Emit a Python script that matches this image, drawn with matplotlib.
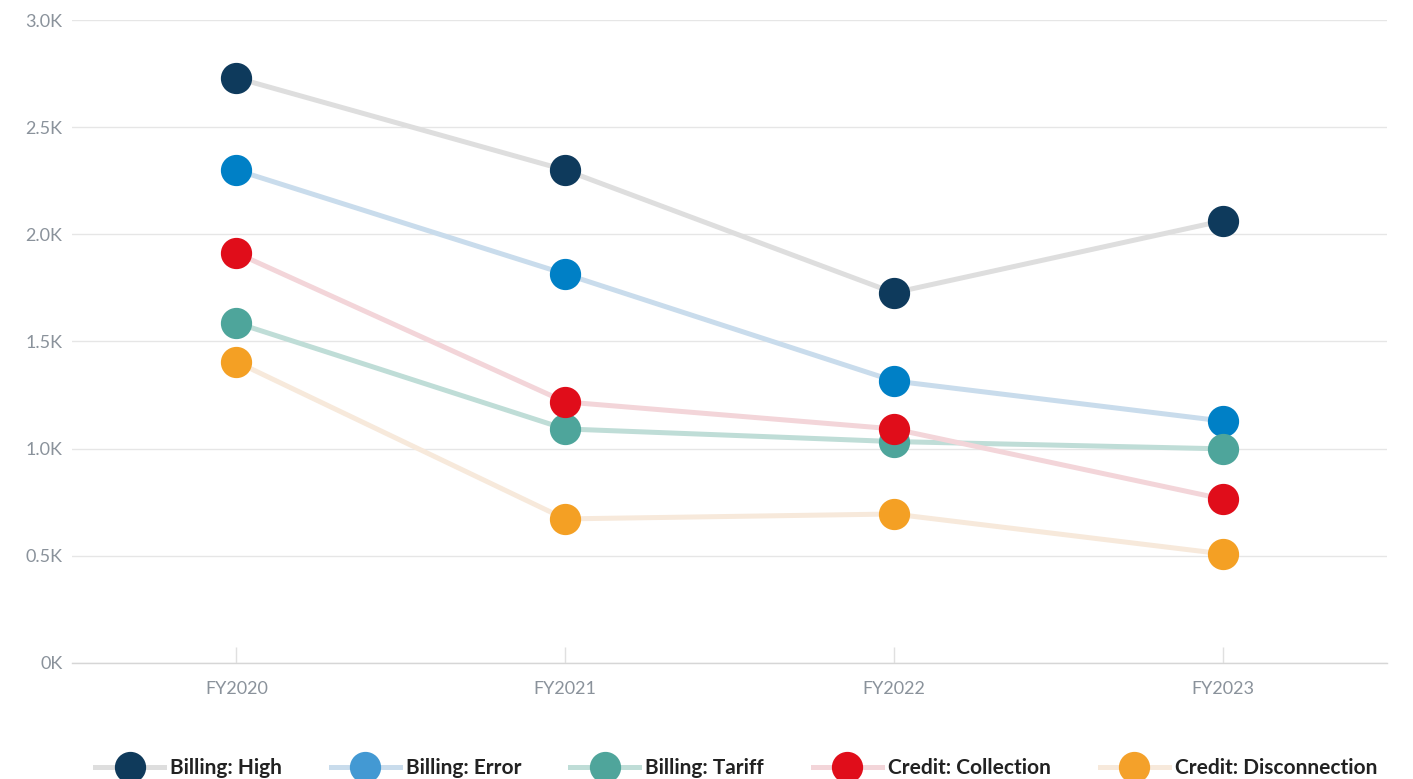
import matplotlib.pyplot as plt
from matplotlib.lines import Line2D
from matplotlib.ticker import FuncFormatter

years = ['FY2020', 'FY2021', 'FY2022', 'FY2023']
names = ['Billing: High', 'Billing: Error', 'Billing: Tariff', 'Credit: Collection', 'Credit: Disconnection']
billing_high = [2730, 2300, 1727, 2063]
billing_error = [2300, 1815, 1316, 1129]
billing_tariff = [1587, 1092, 1033, 999]
credit_collection = [1913, 1218, 1092, 765]
credit_disconnection = [1405, 672, 695, 509]
series = [billing_high, billing_error, billing_tariff, credit_collection, credit_disconnection]

dot_colors = ['#0e3a5c', '#0080c6', '#4ea59b', '#e00d1a', '#f4a024']
legend_dot_colors = ['#0f3a5b', '#4399d3', '#4fa59b', '#e00d1a', '#f4a12a']
line_colors = ['#dedede', '#c9dcec', '#bfddd7', '#f3d5d9', '#f7e9db']

plt.rcParams['font.family'] = ['Lato', 'DejaVu Sans']

fig = plt.figure(figsize=(14.13, 7.79), dpi=100)
ax = fig.add_axes([0.051, 0.149, 0.9305, 0.8253])

x = list(range(len(years)))
# lines first, then dots on top
for vals, lc in zip(series, line_colors):
    ax.plot(x, vals, color=lc, lw=3.6, solid_capstyle='round', zorder=2)
for vals, dc in zip(series, dot_colors):
    ax.plot(x, vals, ls='none', marker='o', ms=21.5, mfc=dc, mec=dc, zorder=3)

ax.set_xlim(-0.5, 3.5)
ax.set_ylim(0, 3000)
ax.set_yticks([0, 500, 1000, 1500, 2000, 2500, 3000])
ax.yaxis.set_major_formatter(FuncFormatter(lambda v, p: '0K' if v == 0 else '%.1fK' % (v / 1000)))
ax.set_xticks(x)
ax.set_xticklabels(years)

ax.grid(axis='y', color='#e6e6e6', lw=1)
ax.set_axisbelow(True)
for s in ['top', 'right', 'left']:
    ax.spines[s].set_visible(False)
ax.spines['bottom'].set_color('#d6d6d6')
ax.spines['bottom'].set_linewidth(1)

ax.tick_params(axis='y', length=0, pad=7, labelsize=13, labelcolor='#8a929b')
ax.tick_params(axis='x', direction='in', length=11.5, width=1, color='#e0e0e0',
               pad=13, labelsize=13, labelcolor='#8a929b')

handles = []
for lc, dc in zip(line_colors, legend_dot_colors):
    handles.append(Line2D([0], [0], color=lc, lw=3.6, marker='o', ms=21.5, mfc=dc, mec=dc))
leg = fig.legend(handles, names, loc='center', bbox_to_anchor=(0.521, 0.014), ncol=5,
                 frameon=False, fontsize=15, handlelength=3.3, handletextpad=0.3,
                 columnspacing=2.35)
for t in leg.get_texts():
    t.set_color('#222222')
    t.set_fontweight('bold')

fig.savefig('out.png', dpi=100)
